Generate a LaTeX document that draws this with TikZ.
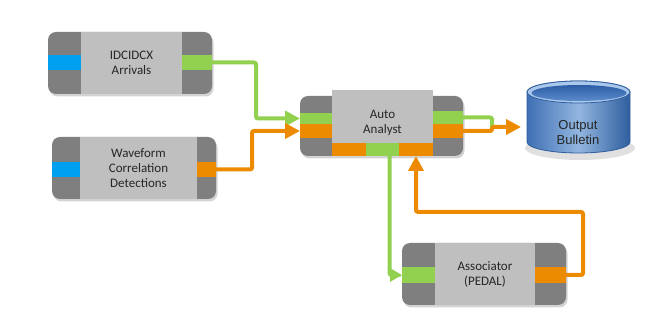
\documentclass[tikz,border=0pt]{standalone}
\usepackage{fontspec}
\setmainfont{Carlito}
\newfontfamily\arialfont{Liberation Sans}
\usetikzlibrary{arrows.meta,shadows,calc}
\definecolor{dgray}{HTML}{7F7F7F}
\definecolor{lgray}{HTML}{BFBFBF}
\definecolor{cblue}{HTML}{00A0F0}
\definecolor{cgreen}{HTML}{92D050}
\definecolor{corange}{HTML}{ED8B00}
\definecolor{txt}{HTML}{262626}
\definecolor{cylD}{HTML}{2F5E9E}
\definecolor{cylE}{HTML}{3F70B4}
\definecolor{cylM}{HTML}{92B6E0}
\definecolor{cylL}{HTML}{A9C8EC}
\definecolor{cylT}{HTML}{2D5DA5}
\definecolor{cylB}{HTML}{5B8CCB}
\tikzset{
  outerbox/.style={draw=none,fill=dgray,rounded corners=8pt,inner sep=0pt,outer sep=0pt,
    drop shadow={shadow xshift=1.5pt,shadow yshift=-2.5pt,opacity=0.35}},
  innerbox/.style={draw=none,fill=lgray,inner sep=0pt,outer sep=0pt,align=center,
    text=txt,font=\fontsize{13}{15}\selectfont},
  band/.style={draw=none,inner sep=0pt,outer sep=0pt},
  conn/.style={line width=4pt,rounded corners=2pt},
  tip/.style={-{Triangle[length=15pt,width=15pt]}},
}
\begin{document}
\begin{tikzpicture}[x=1pt,y=-1pt]
\useasboundingbox (0,0) rectangle (658,328);
% IDCIDCX
\node[outerbox,minimum width=164pt,minimum height=62pt] (idc) at (130,63) {};
\node[innerbox,minimum width=101pt,minimum height=62pt] (idcT) at (131.5,63) {IDCIDCX\\Arrivals};
\node[band,fill=cblue,minimum width=33pt,minimum height=15pt] (idcB) at (64.5,62.5) {};
\node[band,fill=cgreen,minimum width=30pt,minimum height=15pt] (idcG) at (197,62.5) {};
% Waveform
\node[outerbox,minimum width=164pt,minimum height=62pt] (wcd) at (134,168) {};
\node[innerbox,minimum width=117pt,minimum height=62pt] (wcdT) at (138.5,168) {Waveform\\Correlation\\Detections};
\node[band,fill=cblue,minimum width=28pt,minimum height=15pt] (wcdB) at (66,169.5) {};
\node[band,fill=corange,minimum width=19pt,minimum height=15pt] (wcdO) at (206.5,169.5) {};
% Auto Analyst
\node[outerbox,minimum width=163pt,minimum height=60pt] (aa) at (381.5,126) {};
\node[innerbox,minimum width=101pt,minimum height=66pt] (aaT) at (382.5,123) {Auto\\Analyst};
\node[band,fill=cgreen,minimum width=32pt,minimum height=11pt] (aaLG) at (316,118.5) {};
\node[band,fill=corange,minimum width=32pt,minimum height=14pt] (aaLO) at (316,131) {};
\node[band,fill=cgreen,minimum width=30pt,minimum height=13pt] (aaRG) at (448,117.5) {};
\node[band,fill=corange,minimum width=30pt,minimum height=14pt] (aaRO) at (448,131) {};
\node[band,fill=corange,minimum width=34pt,minimum height=13pt] (aaBO1) at (349,149.5) {};
\node[band,fill=cgreen,minimum width=33pt,minimum height=13pt] (aaBG) at (382.5,149.5) {};
\node[band,fill=corange,minimum width=34pt,minimum height=13pt] (aaBO2) at (416,149.5) {};
% Associator
\node[outerbox,minimum width=164pt,minimum height=62pt] (as) at (484,274) {};
\node[innerbox,minimum width=100pt,minimum height=62pt] (asT) at (485,274) {Associator\\(PEDAL)};
\node[band,fill=cgreen,minimum width=33pt,minimum height=16pt] (asG) at (418.5,275) {};
\node[band,fill=corange,minimum width=31pt,minimum height=16pt] (asO) at (550.5,275) {};
% Output Bulletin cylinder
\fill[black,opacity=0.12] (580,148) ellipse[x radius=55pt,y radius=12pt];
\shade[left color=cylE,right color=cylD,middle color=cylM,draw=cylD,line width=0.8pt]
  (527,92) -- (527,142) arc[start angle=180,end angle=360,x radius=51.5pt,y radius=11pt]
  -- (630,92) arc[start angle=0,end angle=180,x radius=51.5pt,y radius=11pt] -- cycle;
\fill[cylL,draw=cylD,line width=0.8pt] (578.5,92) ellipse[x radius=51.5pt,y radius=11pt];
\shade[top color=cylT,bottom color=cylB] (579,93) ellipse[x radius=47.5pt,y radius=8pt];
\node[align=center,text=txt,font=\arialfont\fontsize{13}{15}\selectfont,inner sep=0pt] (ob) at (578,133) {Output\\Bulletin};
\coordinate (obIn) at (521,127);
% connectors
\draw[conn,cgreen,tip] (idcG.east) -- (256,62.5) |- (aaLG.west);
\draw[conn,corange,tip] (wcdO.east) -- (252,169.5) |- (aaLO.west);
\draw[conn,cgreen] (aaRG.east) -| (492,129);
\draw[conn,corange,tip] (aaRO.east) -- (492,131) -- (492,127) -- (obIn);
\draw[conn,cgreen,-{Triangle[length=12pt,width=13pt]}] ([xshift=7pt]aaBG.south) |- (asG.west);
\draw[conn,corange,tip] (asO.east) -| (583,212) -| (aaBO2.south);
\end{tikzpicture}
\end{document}
